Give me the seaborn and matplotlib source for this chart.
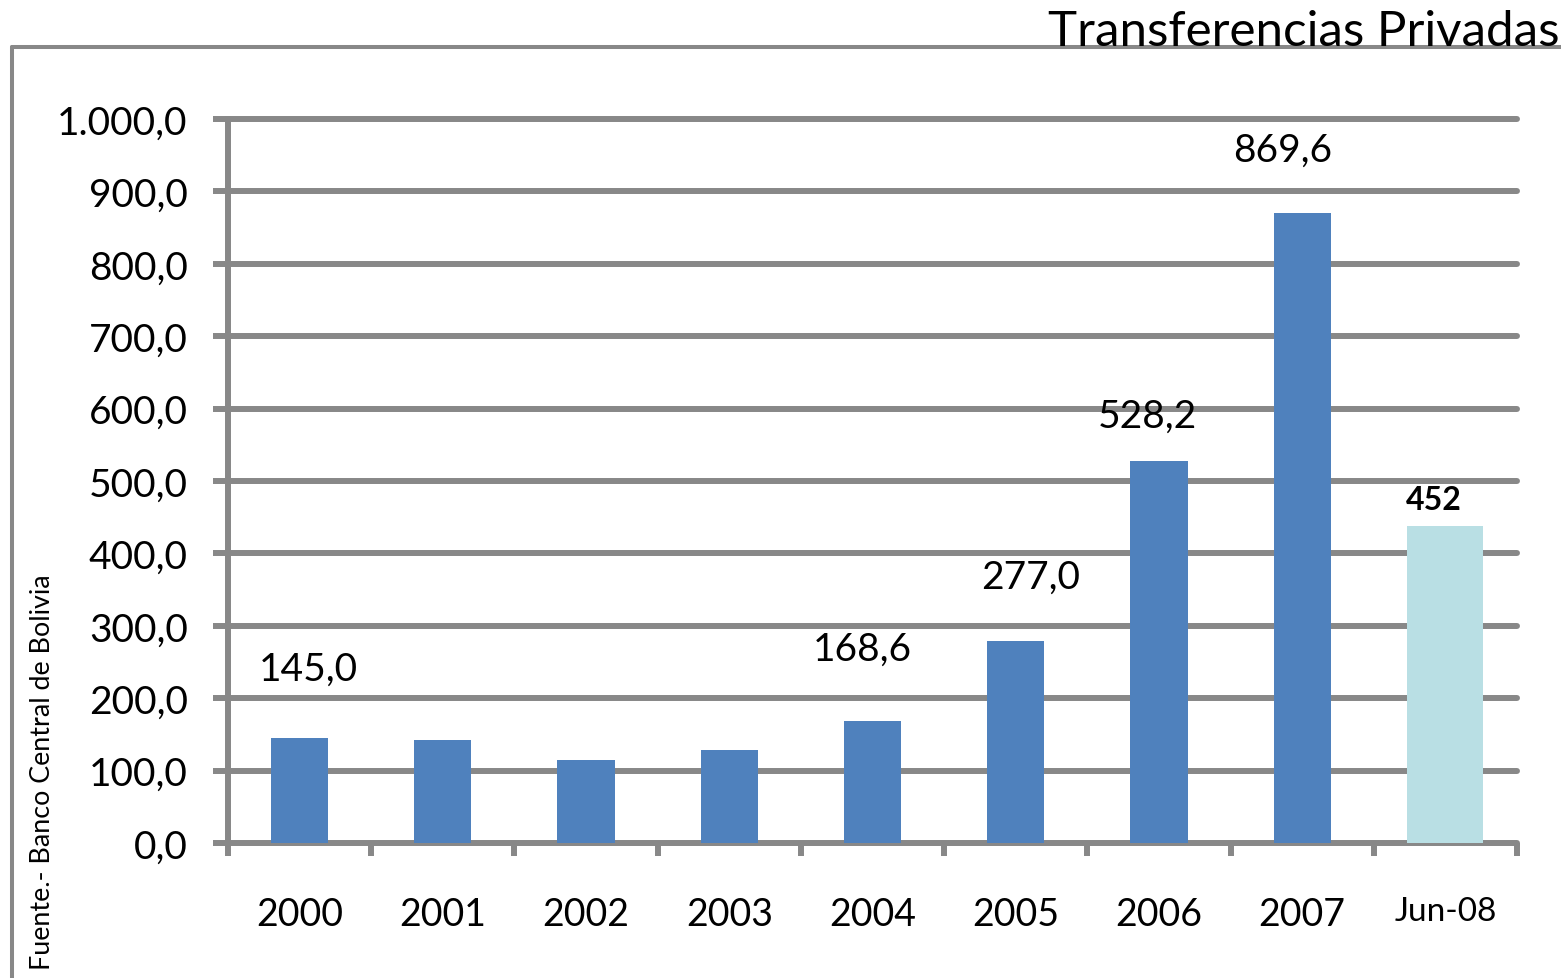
import matplotlib
matplotlib.use("Agg")
import matplotlib.pyplot as plt
from matplotlib.lines import Line2D
from matplotlib.ticker import FuncFormatter, FixedLocator
import seaborn as sns
import pandas as pd

categories = ["2000", "2001", "2002", "2003", "2004", "2005", "2006", "2007", "Jun-08"]
values = [145.0, 142.0, 114.5, 128.5, 168.6, 279.0, 528.2, 869.6, 438.0]
labels = ["145,0", None, None, None, "168,6", "277,0", "528,2", "869,6", "452"]
# label offsets in points (dx, dy) from the bar top
label_offsets = [(6, 50), None, None, None, (-7, 52), (11, 46), (-8, 32), (-14, 46), (-8, 19)]
bar_colors = ["#4F81BD"] * 8 + ["#B9DFE4"]

GRAY = "#888888"

sns.set_theme(style="white")
plt.rcParams["font.family"] = ["Lato", "DejaVu Sans"]

fig = plt.figure(figsize=(15.61, 9.79), dpi=100)
ax = fig.add_axes([228 / 1561, 1 - 844 / 979, (1517 - 228) / 1561, (844 - 120) / 979])

df = pd.DataFrame({"cat": categories, "val": values})
sns.barplot(data=df, x="cat", y="val", hue="cat", palette=bar_colors,
            legend=False, width=0.4, saturation=1, linewidth=0, ax=ax, zorder=3)

# last bar (Jun-08) is wider
last = ax.patches[-1]
cx = last.get_x() + last.get_width() / 2
last.set_width(0.53)
last.set_x(cx - 0.265)

ax.set_ylim(0, 1000)
ax.set_xlim(-0.5, len(categories) - 0.5)
ax.set_yticks(range(0, 1001, 100))
ax.yaxis.set_major_formatter(FuncFormatter(
    lambda v, p: f"{v:,.1f}".replace(",", "X").replace(".", ",").replace("X", ".")))

for y in range(0, 1001, 100):
    ax.add_line(Line2D([-0.5, len(categories) - 0.5], [y, y], color=GRAY, lw=4.3,
                       solid_capstyle="round", zorder=1, clip_on=False))

ax.grid(False)
for s in ["top", "right"]:
    ax.spines[s].set_visible(False)
ax.spines["left"].set_color(GRAY)
ax.spines["left"].set_linewidth(4.3)
ax.spines["left"].set_zorder(2)
ax.spines["bottom"].set_visible(False)

ax.tick_params(axis="y", length=11, width=4.3, color=GRAY, pad=18,
               labelsize=28, labelcolor="black", left=True)
ax.xaxis.set_minor_locator(FixedLocator([i - 0.5 for i in range(len(categories) + 1)]))
ax.tick_params(axis="x", which="minor", length=9, width=4.3, color=GRAY, bottom=True)
ax.tick_params(axis="x", which="major", length=0, pad=38, labelsize=27, labelcolor="black")
for t in ax.get_xticklabels():
    if t.get_text() == "Jun-08":
        t.set_fontsize(24)
ax.set_xlabel("")
ax.set_ylabel("")

for i, (lab, off) in enumerate(zip(labels, label_offsets)):
    if lab is None:
        continue
    bold = lab == "452"
    ax.annotate(lab, (i, values[i]), xytext=off, textcoords="offset points",
                ha="center", va="center", fontsize=23 if bold else 28,
                fontweight="bold" if bold else "normal", color="black", zorder=5)

# outer frame
fx, fy = 12 / 1561, 1 - 48 / 979
fig.add_artist(Line2D([fx, fx], [0, fy], color=GRAY, lw=2.9, transform=fig.transFigure))
fig.add_artist(Line2D([fx, 1], [fy, fy], color=GRAY, lw=2.9, transform=fig.transFigure))

fig.text(1560 / 1561, 1 - 46 / 979, "Transferencias Privadas", ha="right", va="baseline",
         fontsize=35.5, color="black")
fig.text(43 / 1561, 1 - 970 / 979, "Fuente.- Banco Central de Bolivia", rotation=90,
         ha="center", va="bottom", fontsize=19.4, color="black")

fig.savefig("out.png", dpi=100)
